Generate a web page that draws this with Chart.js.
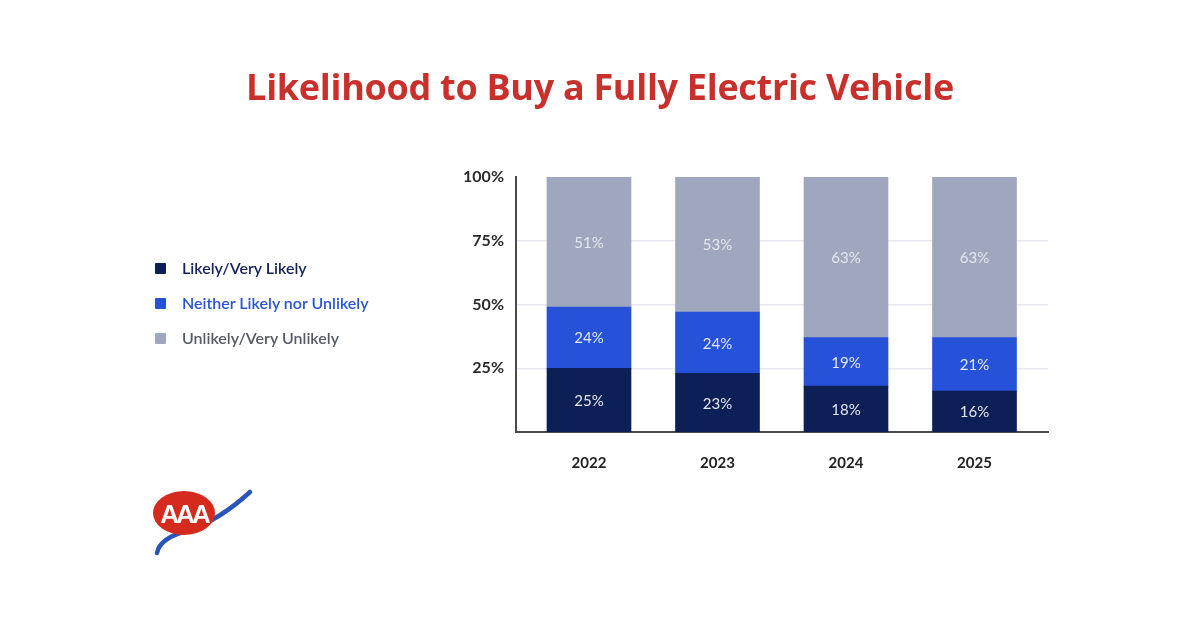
<!DOCTYPE html>
<html>
<head>
<meta charset="utf-8">
<script src="https://cdn.jsdelivr.net/npm/chart.js@4.4.1/dist/chart.umd.min.js"></script>
<style>
  html, body { margin: 0; padding: 0; background: #fff; }
  #wrap { position: relative; width: 1200px; height: 627px; overflow: hidden; font-family: Lato, "Open Sans", sans-serif; }
  #chart { position: absolute; left: 0; top: 0; }
  #title { position: absolute; left: 0; top: 62px; width: 1200px; text-align: center;
           font-size: 36px; font-weight: 700; color: #c8302c; font-family: "Open Sans", Lato, sans-serif; letter-spacing: -0.3px; }
  #legend { position: absolute; left: 155px; top: 258px; }
  .item { height: 35px; display: flex; align-items: flex-start; font-size: 16px; font-weight: 600; }
  .box { width: 11px; height: 11px; margin: 5px 16px 0 0; border-radius: 1px; }
  #logo { position: absolute; left: 140px; top: 480px; }
</style>
</head>
<body>
<div id="wrap">
  <canvas id="chart" width="1200" height="627"></canvas>
  <div id="title">Likelihood to Buy a Fully Electric Vehicle</div>
  <div id="legend"></div>
  <svg id="logo" width="120" height="80" viewBox="140 480 120 80">
    <path d="M157 553 C 159 541, 174 534, 190 530 C 215 521, 238 503, 250 492" fill="none" stroke="#2a55b8" stroke-width="4.5" stroke-linecap="round"/>
    <ellipse cx="184" cy="513" rx="31" ry="22" fill="#d52b1e"/>
    <text x="184" y="523" text-anchor="middle" font-family="Liberation Sans, sans-serif" font-weight="700" font-size="26" fill="#fff" letter-spacing="-3">AAA</text>
  </svg>
</div>
<script>
const years = ['2022', '2023', '2024', '2025'];
const likely = [25, 23, 18, 16];
const neither = [24, 24, 19, 21];
const unlikely = [51, 53, 63, 63];
const yTicks = [25, 50, 75, 100];

const seriesNames = ['Likely/Very Likely', 'Neither Likely nor Unlikely', 'Unlikely/Very Unlikely'];
const seriesColors = ['#0c1f56', '#2652d9', '#9ea7bd'];
const legendText = ['#15225a', '#2b55d6', '#555a66'];

// legend
const legendEl = document.getElementById('legend');
seriesNames.forEach((name, i) => {
    const row = document.createElement('div');
    row.className = 'item';
    row.innerHTML = '<div class="box" style="background:' + seriesColors[i] + '"></div>' +
        '<span style="color:' + legendText[i] + '">' + name + '</span>';
    legendEl.appendChild(row);
});

// percentage labels inside the segments
const segmentLabels = {
    id: 'segmentLabels',
    afterDatasetsDraw(chart) {
        const ctx = chart.ctx;
        ctx.save();
        ctx.font = '15px Lato, "Open Sans", sans-serif';
        ctx.fillStyle = '#e3e7f0';
        ctx.textAlign = 'center';
        ctx.textBaseline = 'middle';
        chart.data.datasets.forEach((ds, di) => {
            const meta = chart.getDatasetMeta(di);
            meta.data.forEach((bar, i) => {
                const { x, y, base } = bar.getProps(['x', 'y', 'base'], true);
                ctx.fillText(ds.data[i] + '%', x, (y + base) / 2 + 1);
            });
        });
        ctx.restore();
    }
};

const ctx = document.getElementById('chart').getContext('2d');
new Chart(ctx, {
    type: 'bar',
    data: {
        labels: years,
        datasets: [
            { label: seriesNames[0], data: likely, backgroundColor: seriesColors[0] },
            { label: seriesNames[1], data: neither, backgroundColor: seriesColors[1] },
            { label: seriesNames[2], data: unlikely, backgroundColor: seriesColors[2] }
        ]
    },
    options: {
        responsive: false,
        animation: false,
        devicePixelRatio: 1,
        layout: { padding: { left: 440, right: 152, top: 177, bottom: 135 } },
        datasets: { bar: { barThickness: 84, borderWidth: 0 } },
        scales: {
            x: {
                type: 'linear',
                stacked: true,
                offset: false,
                clip: false,
                min: 2021.432,
                max: 2025.572,
                afterBuildTicks: (scale) => { scale.ticks = years.map(v => ({ value: +v })); },
                afterFit: (scale) => { scale.height = 60; },
                grid: { display: false, offset: false, drawTicks: false },
                border: { display: true, color: '#4a4a4a', width: 2 },
                ticks: {
                    padding: 22,
                    color: '#222',
                    font: { family: 'Lato, "Open Sans", sans-serif', size: 15, weight: 'bold' },
                    callback: (v) => String(v)
                }
            },
            y: {
                stacked: true,
                min: 0,
                max: 100,
                afterBuildTicks: (scale) => { scale.ticks = yTicks.map(v => ({ value: v })); },
                afterFit: (scale) => { scale.width = 76; },
                grid: {
                    drawTicks: false,
                    color: (c) => (c.tick && c.tick.value < 100) ? '#e6eaf0' : 'rgba(0,0,0,0)',
                    lineWidth: 1.5
                },
                border: { display: true, color: '#4a4a4a', width: 2 },
                ticks: {
                    padding: 12,
                    color: '#2a2a2a',
                    font: { family: 'Lato, "Open Sans", sans-serif', size: 16, weight: 'bold' },
                    callback: (v) => v + '%'
                }
            }
        },
        plugins: {
            legend: { display: false },
            tooltip: { enabled: false }
        }
    },
    plugins: [segmentLabels]
});
</script>
</body>
</html>
